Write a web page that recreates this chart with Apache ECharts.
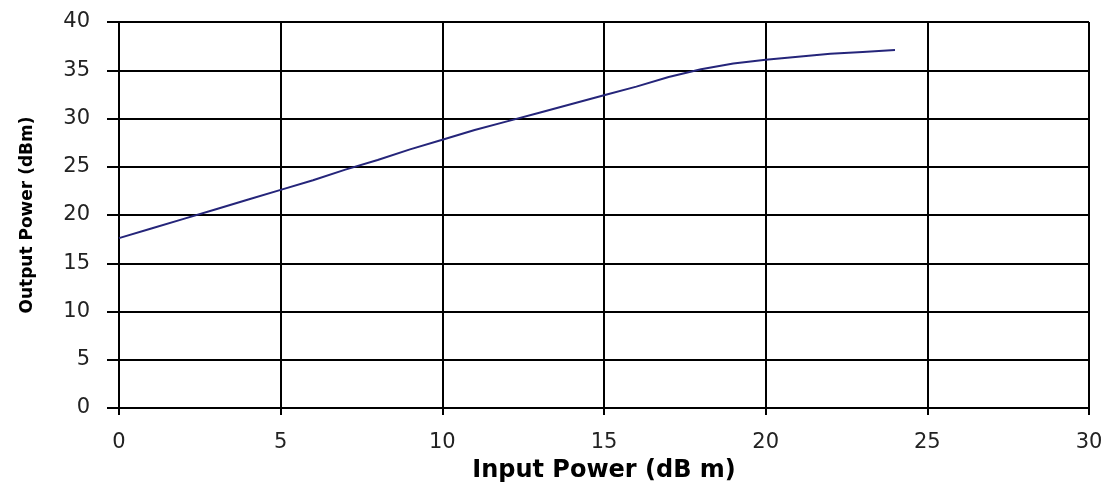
<!DOCTYPE html>
<html>
<head>
<meta charset="utf-8">
<script src="https://cdn.jsdelivr.net/npm/echarts@6/dist/echarts.min.js"></script>
<style>
  html, body { margin: 0; padding: 0; background: #fff; }
  #chart { width: 1109px; height: 485px; }
</style>
</head>
<body>
<div id="chart"></div>
<script>
// input power (dBm) and measured output power (dBm)
const inputPower = [0, 1, 2, 3, 4, 5, 6, 7, 8, 9, 10, 11, 12, 13, 14, 15, 16, 17, 18, 19, 20, 21, 22, 23, 24];
const outputPower = [17.6, 18.6, 19.6, 20.6, 21.6, 22.6, 23.6, 24.7, 25.7, 26.8, 27.8, 28.8, 29.7, 30.6, 31.5, 32.4, 33.3, 34.3, 35.1, 35.7, 36.1, 36.4, 36.7, 36.9, 37.1];

const xTicks = [0, 5, 10, 15, 20, 25, 30];
const yTicks = [0, 5, 10, 15, 20, 25, 30, 35, 40];

const myChart = echarts.init(document.getElementById('chart'));

const labelFont = {
  color: '#222',
  fontFamily: 'DejaVu Sans',
  fontSize: 21
};

const option = {
  backgroundColor: '#fff',
  animation: false,
  grid: {
    left: 119,
    right: 20,
    top: 22,
    bottom: 77,
    containLabel: false,
    outerBoundsMode: 'none'
  },
  xAxis: {
    type: 'value',
    min: xTicks[0],
    max: xTicks[xTicks.length - 1],
    interval: 5,
    name: 'Input Power (dB m)',
    nameLocation: 'middle',
    nameGap: 51,
    nameTextStyle: {
      color: '#000',
      fontFamily: 'DejaVu Sans',
      fontWeight: 'bold',
      fontSize: 24
    },
    axisLine: { lineStyle: { color: '#000', width: 2 } },
    axisTick: { length: 7, lineStyle: { color: '#000', width: 2 } },
    axisLabel: Object.assign({ margin: 24 }, labelFont),
    splitLine: { show: true, lineStyle: { color: '#000', width: 2 } }
  },
  yAxis: {
    type: 'value',
    min: yTicks[0],
    max: yTicks[yTicks.length - 1],
    interval: 5,
    name: 'Output Power (dBm)',
    nameLocation: 'middle',
    nameGap: 83,
    nameRotate: 90,
    nameTextStyle: {
      color: '#000',
      fontFamily: 'DejaVu Sans',
      fontWeight: 'bold',
      fontSize: 17
    },
    axisLine: { show: true, lineStyle: { color: '#000', width: 2 } },
    axisTick: { show: true, length: 12, lineStyle: { color: '#000', width: 2 } },
    axisLabel: Object.assign({ margin: 29 }, labelFont),
    splitLine: { show: true, lineStyle: { color: '#000', width: 2 } }
  },
  series: [
    {
      type: 'line',
      data: inputPower.map((x, i) => [x, outputPower[i]]),
      showSymbol: false,
      lineStyle: { color: '#25257a', width: 2 },
      z: 5
    }
  ]
};

myChart.setOption(option);
</script>
</body>
</html>
